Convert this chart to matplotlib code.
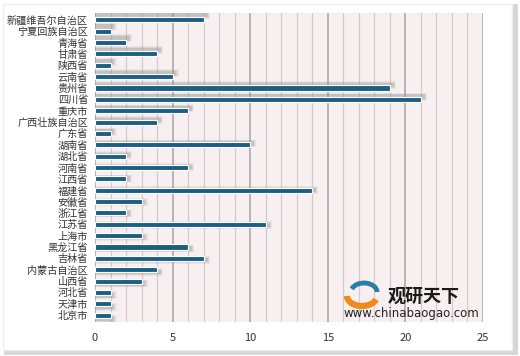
import numpy as np
import matplotlib
matplotlib.use('Agg')
import matplotlib.pyplot as plt
from matplotlib.patches import Rectangle, Arc

plt.rcParams['font.family'] = ['Noto Sans CJK SC', 'DejaVu Sans']

# 省份（从下到上）及数值
provinces = ['北京市', '天津市', '河北省', '山西省', '内蒙古自治区', '吉林省', '黑龙江省',
             '上海市', '江苏省', '浙江省', '安徽省', '福建省', '江西省', '河南省', '湖北省',
             '湖南省', '广东省', '广西壮族自治区', '重庆市', '四川省', '贵州省', '云南省',
             '陕西省', '甘肃省', '青海省', '宁夏回族自治区', '新疆维吾尔自治区']
values = [1, 1, 1, 3, 4, 7, 6,
          3, 11, 2, 3, 14, 2, 6, 2,
          10, 1, 4, 6, 21, 19, 5,
          1, 4, 2, 1, 7]
x_ticks = [0, 5, 10, 15, 20, 25]

fig = plt.figure(figsize=(5.2, 3.56), dpi=100)

# 外框
fig.patches.append(Rectangle((0.012, 0.010), 0.978, 0.972, transform=fig.transFigure,
                             facecolor='none', edgecolor='#d6d6d6', lw=3.5, zorder=0))
fig.patches.append(Rectangle((0.006, 0.018), 0.978, 0.972, transform=fig.transFigure,
                             facecolor='white', edgecolor='#eeeeee', lw=1, zorder=0))

ax = fig.add_axes([95 / 520, 1 - 322 / 356, (483 - 95) / 520, (322 - 13) / 356])
ax.set_zorder(2)
ax.set_facecolor('#f8f0f0')

y = np.arange(len(provinces))
vals = np.array(values)

# 阴影（透视效果）
shift = -0.3 + 0.028 * y
for k, a in [(0.14, 0.12), (0.07, 0.18), (0.0, 0.28)]:
    ax.barh(y + shift, vals + 0.25 + k, height=0.4 + k * 2, left=0,
            color='#909090', alpha=a, lw=0, zorder=2)

ax.barh(y, vals, height=0.45, color='#1b5f85', edgecolor='white', lw=0.8, zorder=3)

ax.set_xlim(0, 25)
ax.set_ylim(-0.6, len(provinces) - 0.4)
ax.set_xticks(x_ticks)
ax.set_xticklabels([str(t) for t in x_ticks], fontsize=8, color='#333333')
ax.set_yticks(y)
ax.set_yticklabels(provinces, fontsize=7.3, color='#333333')
ax.tick_params(length=0, pad=5)
ax.tick_params(axis='x', pad=8)
for s in ax.spines.values():
    s.set_visible(False)

# 网格线
for v in range(0, 26):
    if v % 5 == 0:
        ax.axvline(v, color='#a8a4a4', lw=1.1, zorder=1)
    else:
        ax.axvline(v, color='#d4cccc', lw=0.9, zorder=1)

# 水印
fig.text(388 / 520, 1 - 296 / 356, '观研天下', fontsize=13, fontweight='bold',
         color='#1a1a1a', ha='left', va='center', zorder=5)
fig.text(411 / 520, 1 - 314 / 356, 'www.chinabaogao.com', fontsize=8.5,
         color='#222222', ha='center', va='center', family='DejaVu Sans', zorder=5)
fig.patches.append(Arc((362 / 520, 1 - 296 / 356), 30 / 520, 20 / 356, theta1=180, theta2=340,
                       transform=fig.transFigure, color='#f08a1c', lw=4.5, zorder=5))
fig.patches.append(Arc((364 / 520, 1 - 292 / 356), 26 / 520, 18 / 356, theta1=0, theta2=160,
                       transform=fig.transFigure, color='#2a7ea8', lw=3.5, zorder=5))

fig.savefig('out.png', dpi=100)
